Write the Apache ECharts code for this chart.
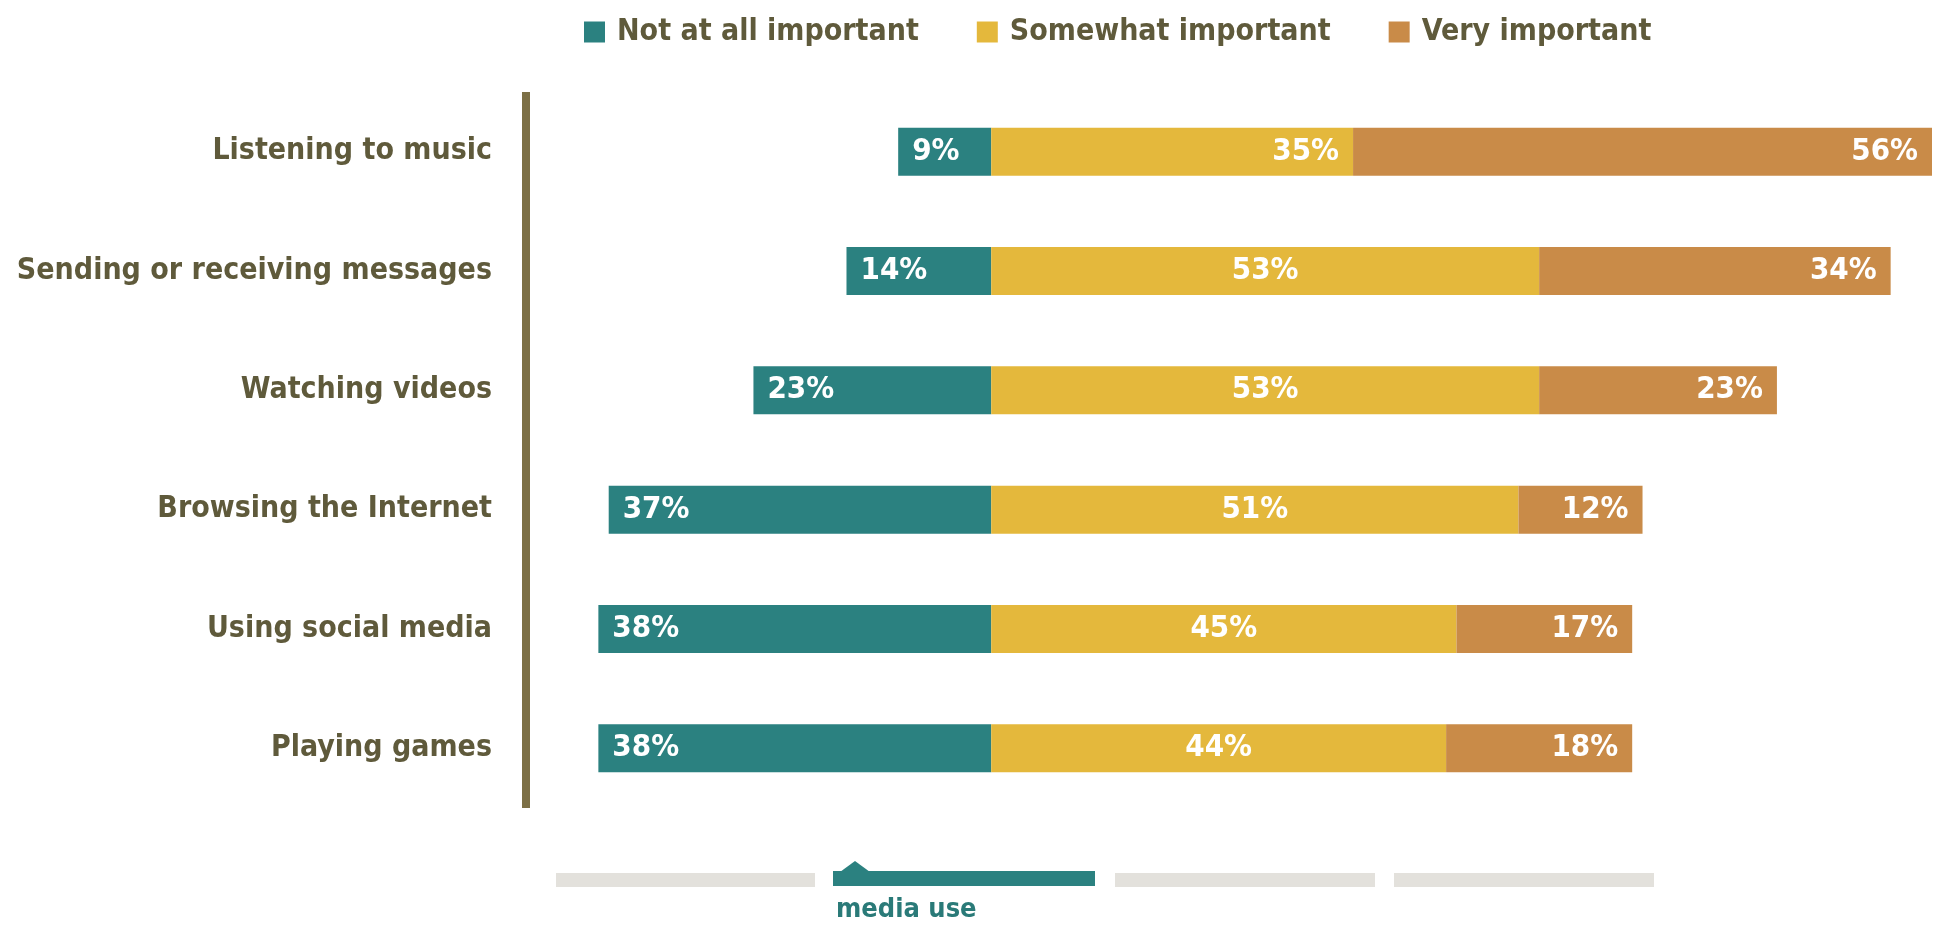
<!DOCTYPE html>
<html>
<head>
<meta charset="utf-8">
<script src="https://cdn.jsdelivr.net/npm/echarts@6/dist/echarts.min.js"></script>
<style>
html,body{margin:0;padding:0;background:#fff;}
#chart{width:1937px;height:935px;}
</style>
</head>
<body>
<div id="chart"></div>
<script>
// ---- data ----
const categories = ['Listening to music', 'Sending or receiving messages', 'Watching videos', 'Browsing the Internet', 'Using social media', 'Playing games'];
const seriesNames = ['Not at all important', 'Somewhat important', 'Very important'];
const notAtAll = [9, 14, 23, 37, 38, 38];
const somewhat = [35, 53, 53, 51, 45, 44];
const very = [56, 34, 23, 12, 17, 18];
const navLabel = 'media use';

// ---- style ----
const FONT = "'Liberation Sans Narrow', 'DejaVu Sans Condensed', 'Roboto', sans-serif";
const TEAL = '#2b8180';
const YELLOW = '#e4b83c';
const ORANGE = '#c98b48';
const OLIVE = '#5f5a3b';
const AXIS = '#7c6f45';

const chart = echarts.init(document.getElementById('chart'), null, {renderer: 'canvas'});

const barLabel = (pos) => ({
  show: true,
  position: pos,
  distance: 14,
  color: '#ffffff',
  fontFamily: FONT,
  fontWeight: 'bold',
  fontSize: 31,
  formatter: p => Math.abs(p.value) + '%'
});

const somewhatData = somewhat.map((v, i) => i === 0 ? {value: v, label: {position: 'insideRight'}} : v);

const option = {
  backgroundColor: '#ffffff',
  animation: false,
  legend: {
    left: 584,
    top: 17,
    padding: 0,
    icon: 'rect',
    itemWidth: 21,
    itemHeight: 21,
    itemGap: 58,
    textStyle: {fontFamily: FONT, fontWeight: 'bold', fontSize: 30, color: OLIVE, padding: [0, 0, 0, 7]},
    data: seriesNames
  },
  grid: {left: 526, right: 5, top: 92, bottom: 127, containLabel: false, outerBoundsMode: 'none'},
  xAxis: {
    type: 'value', min: -45, max: 91,
    show: false
  },
  yAxis: {
    type: 'category',
    data: categories,
    inverse: true,
    axisLine: {show: true, onZero: false, lineStyle: {color: AXIS, width: 8, cap: 'butt'}},
    axisTick: {show: false},
    axisLabel: {margin: 34, color: OLIVE, fontFamily: FONT, fontWeight: 'bold', fontSize: 30}
  },
  series: [
    {name: seriesNames[0], type: 'bar', stack: 'total', barWidth: 48, itemStyle: {color: TEAL},
     label: barLabel('insideLeft'), data: notAtAll.map(v => -v)},
    {name: seriesNames[1], type: 'bar', stack: 'total', barWidth: 48, itemStyle: {color: YELLOW},
     label: barLabel('inside'), data: somewhatData},
    {name: seriesNames[2], type: 'bar', stack: 'total', barWidth: 48, itemStyle: {color: ORANGE},
     label: barLabel('insideRight'), data: very}
  ],
  graphic: [
    {type: 'rect', shape: {x: 556, y: 873, width: 259, height: 14}, style: {fill: '#e3e1dc'}},
    {type: 'rect', shape: {x: 833, y: 871, width: 262, height: 15}, style: {fill: TEAL}},
    {type: 'polygon', shape: {points: [[840, 872], [855, 861], [870, 872]]}, style: {fill: TEAL}},
    {type: 'rect', shape: {x: 1115, y: 873, width: 260, height: 14}, style: {fill: '#e3e1dc'}},
    {type: 'rect', shape: {x: 1394, y: 873, width: 260, height: 14}, style: {fill: '#e3e1dc'}},
    {type: 'text', left: 836, top: 896, style: {text: navLabel, fill: '#2a7a78', font: 'bold 27px ' + FONT}}
  ]
};
chart.setOption(option);
</script>
</body>
</html>
